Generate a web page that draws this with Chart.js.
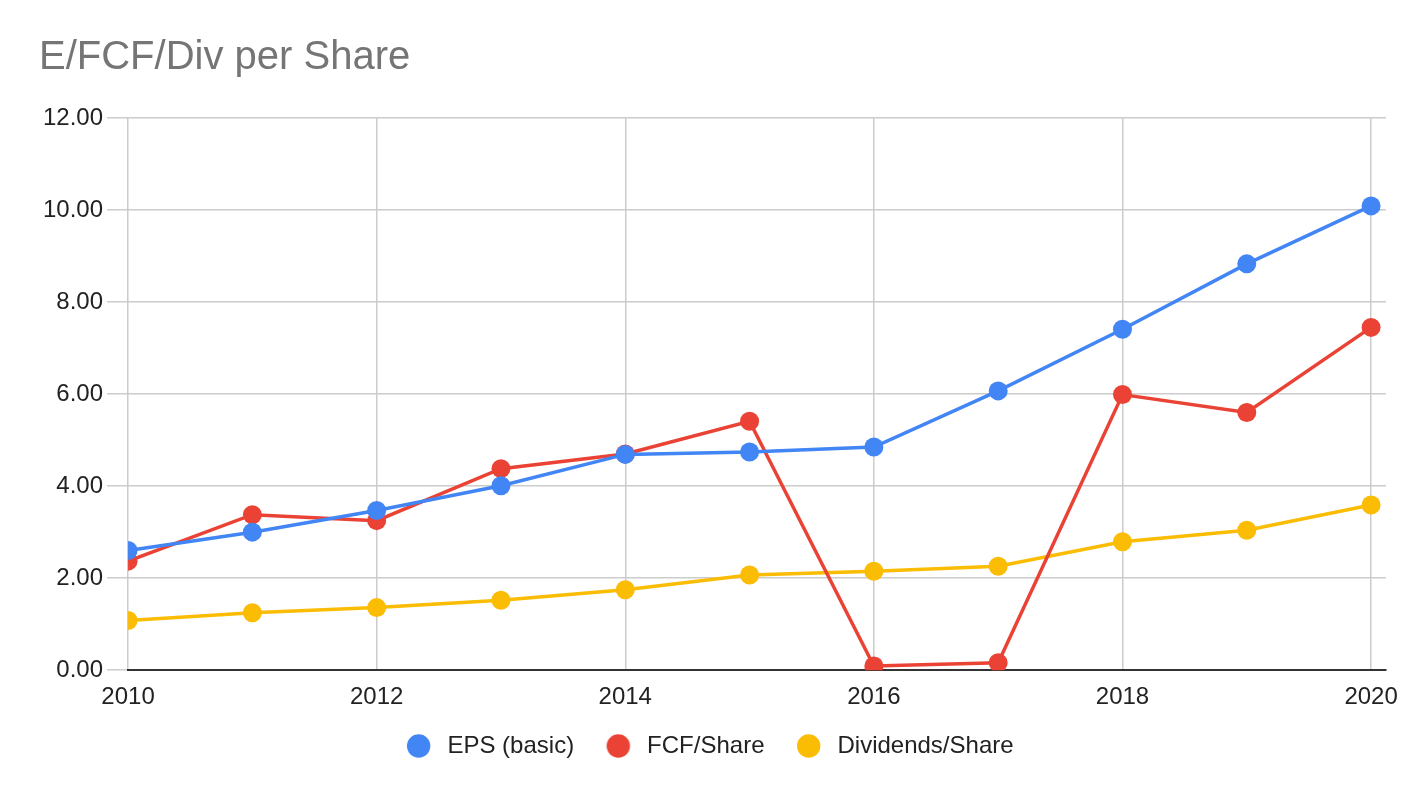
<!DOCTYPE html>
<html>
<head>
<meta charset="utf-8">
<script src="https://cdn.jsdelivr.net/npm/chart.js@4"></script>
<style>
  html, body { margin: 0; padding: 0; background: #fff; }
  #wrap { width: 1424px; height: 798px; }
</style>
</head>
<body>
<div id="wrap"><canvas id="chart"></canvas></div>
<script>
// data
const years = [2010, 2011, 2012, 2013, 2014, 2015, 2016, 2017, 2018, 2019, 2020];
const epsBasic = [2.60, 3.00, 3.47, 4.01, 4.69, 4.74, 4.85, 6.07, 7.41, 8.83, 10.09];
const fcfShare = [2.37, 3.38, 3.25, 4.38, 4.70, 5.41, 0.09, 0.16, 5.99, 5.60, 7.45];
const divShare = [1.08, 1.25, 1.36, 1.52, 1.75, 2.07, 2.15, 2.26, 2.79, 3.04, 3.59];
const xTicks = [2010, 2012, 2014, 2016, 2018, 2020];
const yTicks = [0, 2, 4, 6, 8, 10, 12];

const FONT = '"Liberation Sans", Arial, sans-serif';
const COLORS = ['#4285F4', '#EA4335', '#FBBC04'];

// legend dot, drawn right of the image centre; the wide box gives the item spacing
function legendDot(color) {
    const c = document.createElement('canvas');
    c.width = 60;
    c.height = 24;
    const g = c.getContext('2d');
    g.fillStyle = color;
    g.beginPath();
    g.arc(30 + 8.7, 12, 11.7, 0, Math.PI * 2);
    g.fill();
    return c;
}
const dots = COLORS.map(legendDot);

function series(label, values, color) {
    return {
        label: label,
        data: years.map((y, i) => ({ x: y, y: values[i] })),
        borderColor: color,
        backgroundColor: color,
        pointBackgroundColor: color,
        pointBorderWidth: 0,
        pointRadius: 9.5,
        pointHoverRadius: 9.5,
        borderWidth: 3.5,
        tension: 0
    };
}

// nudge the legend a little left of the canvas centre, like the original
const legendShift = {
    id: 'legendShift',
    afterLayout(chart) {
        chart.legend.left -= 13.5;
        chart.legend.right -= 13.5;
    }
};

const ctx = document.getElementById('chart').getContext('2d');
new Chart(ctx, {
    type: 'line',
    data: {
        datasets: [
            series('EPS (basic)', epsBasic, COLORS[0]),
            series('FCF/Share', fcfShare, COLORS[1]),
            series('Dividends/Share', divShare, COLORS[2])
        ]
    },
    plugins: [legendShift],
    options: {
        responsive: true,
        maintainAspectRatio: false,
        animation: false,
        layout: { padding: { left: 39, right: 38, top: 0, bottom: 30 } },
        plugins: {
            title: {
                display: true,
                text: 'E/FCF/Div per Share',
                align: 'start',
                color: '#757575',
                font: { family: FONT, size: 40, weight: 'normal' },
                padding: { top: 34, bottom: 36 }
            },
            legend: {
                position: 'bottom',
                labels: {
                    usePointStyle: true,
                    pointStyleWidth: 51,
                    boxHeight: 24,
                    padding: 10,
                    color: '#222',
                    font: { family: FONT, size: 24 },
                    generateLabels: (chart) => {
                        const items = Chart.defaults.plugins.legend.labels.generateLabels(chart);
                        items.forEach((it, i) => { it.pointStyle = dots[i]; });
                        return items;
                    }
                }
            },
            tooltip: { enabled: false }
        },
        scales: {
            x: {
                type: 'linear',
                min: years[0],
                max: 2020.12,
                afterBuildTicks: (scale) => { scale.ticks = xTicks.map(v => ({ value: v })); },
                afterFit: (scale) => { scale.height -= 1; },
                ticks: {
                    color: '#222',
                    font: { family: FONT, size: 24 },
                    padding: 13,
                    callback: (v) => String(v)
                },
                grid: { color: '#cccccc', lineWidth: 1.5, drawTicks: false },
                border: { display: true, color: '#333', width: 2 }
            },
            y: {
                min: 0,
                max: 12,
                afterBuildTicks: (scale) => { scale.ticks = yTicks.map(v => ({ value: v })); },
                ticks: {
                    color: '#222',
                    font: { family: FONT, size: 24 },
                    padding: 4,
                    callback: (v) => Number(v).toFixed(2)
                },
                grid: { color: '#cccccc', lineWidth: 1.5, tickLength: 21 },
                border: { display: false }
            }
        }
    }
});
</script>
</body>
</html>
